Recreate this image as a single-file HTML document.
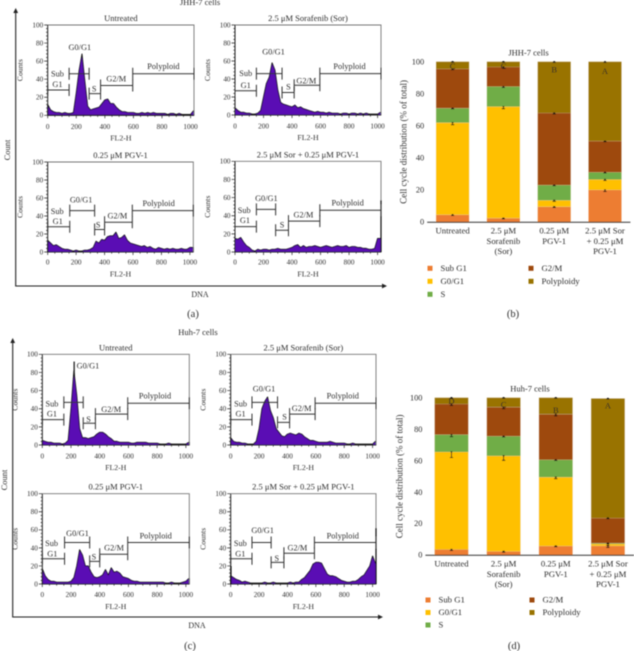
<!DOCTYPE html>
<html>
<head>
<meta charset="utf-8">
<title>Cell cycle distribution</title>
<style>
html,body{margin:0;padding:0;background:#fff;width:634px;height:651px;overflow:hidden}
svg{display:block}
text{font-family:"Liberation Serif",serif;fill:#2e2e2e}
</style>
</head>
<body>
<svg id="fig" width="634" height="651" viewBox="0 0 634 651" xmlns="http://www.w3.org/2000/svg">
  <defs>
    <filter id="soft" x="0" y="0" width="100%" height="100%"><feGaussianBlur stdDeviation="0.4"/></filter>
  </defs>
  <g id="root" filter="url(#soft)">
    <text x="200" y="5" font-size="8.5" text-anchor="middle">JHH-7 cells</text>
    <text x="198" y="335" font-size="8.5" text-anchor="middle">Huh-7 cells</text>

    <g stroke="#222" fill="none" stroke-width="1.1">
      <path d="M15.7 12V286H383"/>
      <path d="M15.7 8l-2.400 5h4.800z" fill="#222" stroke="none"/>
      <path d="M387 286l-5-2.400v4.800z" fill="#222" stroke="none"/>
    </g>
    <text x="10" y="150" font-size="8.5" text-anchor="middle" transform="rotate(-90 10 150)">Count</text>
    <text x="200" y="297" font-size="8" text-anchor="middle">DNA</text>
    <text x="193" y="317" font-size="10.500" text-anchor="middle">(a)</text>

    <g stroke="#222" fill="none" stroke-width="1.1">
      <path d="M12.700 342V617H379"/>
      <path d="M12.700 338l-2.400 5h4.800z" fill="#222" stroke="none"/>
      <path d="M383 617l-5-2.400v4.800z" fill="#222" stroke="none"/>
    </g>
    <text x="7" y="480" font-size="8.5" text-anchor="middle" transform="rotate(-90 7 480)">Count</text>
    <text x="197" y="628" font-size="8" text-anchor="middle">DNA</text>
    <text x="190" y="649" font-size="10.500" text-anchor="middle">(c)</text>

    <text x="513" y="317" font-size="10.500" text-anchor="middle">(b)</text>
    <text x="514" y="649" font-size="10.500" text-anchor="middle">(d)</text>
  </g>
</svg>
<script>
// ---- Histogram counts, one value per 20 FL2-H channels (0..1020) ----
var binWidth = 20;
var histA1 = [12,6,4,3,3,2,3,2,2,3,25,50,68,38,10,6,7,8,9,13,17,18,13,13,9,6,4,4,3,3,3,2,2,3,2,3,2,3,2,2,2,2,1,2,2,1,2,1,1,1,1,5];
var histA2 = [8,5,3,3,2,2,1,1,2,5,20,35,42,58,50,28,14,12,11,10,9,11,8,9,7,6,5,4,3,4,3,3,2,3,2,2,2,1,2,2,1,2,2,1,2,1,2,1,1,1,1,3];
var histA3 = [13,10,7,8,6,4,3,3,2,1,2,1,1,2,2,3,5,12,10,14,13,17,18,18,22,15,16,19,13,10,9,8,7,6,7,5,6,4,3,5,4,3,4,3,4,3,3,4,3,3,5,5];
var histA4 = [15,14,16,11,7,5,2,1,3,2,3,3,2,3,3,4,3,3,3,4,5,7,8,5,7,5,6,6,7,6,5,6,7,6,5,6,7,6,6,7,5,6,6,5,5,4,4,3,3,4,15,15];
var histC1 = [5,4,3,3,2,2,2,1,2,5,40,82,55,18,8,8,7,8,9,12,14,14,12,9,7,4,4,3,3,3,3,2,2,3,3,3,3,2,2,2,2,1,1,1,2,1,1,1,1,1,1,3];
var histC2 = [8,4,3,3,2,2,1,1,1,4,18,40,48,53,38,30,18,14,10,9,12,13,12,11,13,12,9,7,5,5,4,3,3,3,3,4,3,2,2,2,2,1,1,2,1,1,1,1,1,1,1,4];
var histC3 = [17,9,5,3,3,2,2,2,2,2,3,7,20,38,32,20,20,13,8,7,8,10,16,10,18,13,14,12,8,7,6,4,3,3,2,2,2,2,2,2,2,2,2,1,1,2,1,1,1,2,3,6];
var histC4 = [9,7,5,4,2,3,2,1,1,1,1,1,2,1,1,2,1,1,1,1,1,2,1,2,2,5,7,11,15,22,24,24,23,17,11,9,9,8,6,4,3,2,2,3,3,5,8,10,15,20,31,23];

// ---- Edge spikes (channel, top count, bottom count) ----
var spikeA4 = [1024, 57, 0];
var spikeC4 = [1024, 62, 0];
var spikeC4Left = [2, 20, 0];
var spikeC1Mid = [222, 92, 76];

// ---- Marker gates: low channel, high channel, height in counts ----
var gateNames = ['sub-g1','g0-g1','s','g2-m','polyploid'];
var gatesA1 = [[0,150,28],[150,290,46],[290,370,24],[370,595,33],[595,1024,46]];
var gatesA2 = [[0,150,27],[150,330,46],[330,415,25],[415,595,33],[595,1024,46]];
var gatesA3 = [[0,155,28],[155,330,46],[330,400,25],[400,595,33],[595,1024,46]];
var gatesA4 = [[0,150,28],[150,285,47],[285,375,24],[375,595,34],[595,1024,46]];
var gatesC1 = [[0,150,28],[150,285,47],[285,370,24],[370,595,34],[595,1024,46]];
var gatesC2 = [[0,150,28],[150,330,47],[330,415,25],[415,595,34],[595,1024,46]];
var gatesC3 = [[0,155,28],[155,330,46],[330,400,25],[400,595,33],[595,1024,46]];
var gatesC4 = [[0,150,28],[150,285,46],[285,375,24],[375,590,34],[590,1024,46]];

// ---- Marker labels: text, channel, count ----
var labelsA1 = [['Sub',68,46],['G1',68,34],['G0/G1',225,75],['S',325,29],['G2/M',480,40],['Polyploid',810,54]];
var labelsA2 = [['Sub',75,46],['G1',75,33],['G0/G1',270,70],['S',375,31],['G2/M',500,38],['Polyploid',803,54]];
var labelsA3 = [['Sub',67,45],['G1',70,34],['G0/G1',235,58],['S',355,30],['G2/M',490,40],['Polyploid',780,54]];
var labelsA4 = [['Sub',65,46],['G1',70,35],['G0/G1',220,59],['S',330,30],['G2/M',480,41],['Polyploid',790,54]];
var labelsC1 = [['Sub',67,45],['G1',67,34],['G0/G1',318,87],['S',322,28],['G2/M',480,39],['Polyploid',785,54]];
var labelsC2 = [['Sub',70,45],['G1',70,34],['G0/G1',235,62],['S',380,31],['G2/M',500,40],['Polyploid',790,54]];
var labelsC3 = [['Sub',65,45],['G1',70,33],['G0/G1',245,56],['S',360,30],['G2/M',500,40],['Polyploid',790,53]];
var labelsC4 = [['Sub',68,45],['G1',68,33],['G0/G1',225,59],['S',325,28],['G2/M',470,40],['Polyploid',790,53]];

// ---- Histogram axes ----
var histXTicks = [0,200,400,600,800,1000];
var histYTicks = [0,20,40,60,80,100];

// ---- Stacked bars ----
var phases = ['Sub G1','G0/G1','S','G2/M','Polyploidy'];
var barCategoriesB = [['Untreated'],['2.5 μM','Sorafenib','(Sor)'],['0.25 μM','PGV-1'],['2.5 μM Sor','+ 0.25 μM','PGV-1']];
var barCategoriesD = [['Untreated'],['2.5 μM','Sorafenib','(Sor)'],['0.25 μM','PGV-1'],['2.5 μM Sor','+ 0.25 μM','PGV-1']];
var subG1B = [4.5,2.4,9.5,20];
var g0g1B = [57.5,69.6,4,6.5];
var sB = [9,12.5,9.5,4.5];
var g2mB = [24.5,12.2,45,19.5];
var polyB = [4.5,3.3,32,49.5];
var subG1D = [3.5,2.3,5.7,5.8];
var g0g1D = [62,60.7,43.8,1.2];
var sD = [11,12.5,11,0.5];
var g2mD = [19.5,18.5,29,16];
var polyD = [4,6,10.5,76];
var errB = [[0.5,1.3,0.4,0.5,0.3],[0.4,1.3,0.6,0.7,0.3],[0.4,0.6,0.4,0.6,0.4],[1,0.6,0.4,0.4,0.4]];
var errD = [[0.6,3.6,1.3,1,0.3],[0.5,2.8,0.5,1,0.3],[0.4,1,0.4,1,0.3],[1,1,0.4,0.4,0.4]];
var lettersB = ['C','C','B','A'];
var lettersD = ['D','C','B','A'];
var letterLevelB = [97,97,95,94];
var letterLevelD = [97.700,95.500,92,95];
var barYTicks = [0,20,40,60,80,100];
var phaseColors = ['#ed7d31','#ffc000','#70ad47','#9e480e','#997300'];

var NS = 'http://www.w3.org/2000/svg';
var root = document.getElementById('root');
function mk(tag, attrs, parent) {
  var n = document.createElementNS(NS, tag);
  for (var k in attrs) n.setAttribute(k, attrs[k]);
  (parent || root).appendChild(n);
  return n;
}
function drawHistogram(key, title, values, gates, labels, spikes, box) {
  var xS = function (v) { return box.left + (box.right - box.left) * v / 1024; };
  var yS = function (v) { return box.y0 + (box.y100 - box.y0) * v / 100; };
  var g = mk('g', {});
  
  

  var t = mk('text', {x: (box.left + box.right) / 2, y: box.y100 - 4, 'font-size': 8.5, 'text-anchor': 'middle'}, g);
  t.textContent = title;
  
  

  var d = 'M' + xS(0) + ' ' + yS(0);
  values.forEach(function (v, i) { d += 'L' + xS(i * binWidth).toFixed(2) + ' ' + yS(v).toFixed(2); });
  d += 'L' + xS(1024) + ' ' + yS(values[values.length - 1]) + 'L' + xS(1024) + ' ' + yS(0) + 'Z';
  var area = mk('path', {d: d, fill: '#5a0cb4', stroke: '#111', 'stroke-width': 0.9, 'stroke-linejoin': 'round'}, g);
  
  

  var frame = mk('path', {d: 'M' + xS(0) + ' ' + yS(100) + 'H' + xS(1024) + 'V' + yS(0), fill: 'none', stroke: '#777', 'stroke-width': 0.9}, g);
  
  
  var axes = mk('path', {d: 'M' + xS(0) + ' ' + yS(100) + 'V' + yS(0) + 'H' + xS(1024), fill: 'none', stroke: '#222', 'stroke-width': 1}, g);
  
  

  spikes.forEach(function (s) {
    var l = mk('line', {x1: xS(s[0]), x2: xS(s[0]), y1: yS(s[2]), y2: yS(s[1]), stroke: '#111', 'stroke-width': 1.2}, g);
    
    
  });

  var tickPath = '';
  for (var yt = 0; yt <= 100; yt += 4) {
    tickPath += 'M' + xS(0) + ' ' + yS(yt).toFixed(2) + 'h' + (yt % 20 === 0 ? -3.5 : -1.6);
  }
  for (var xt = 0; xt <= 1000; xt += 50) {
    tickPath += 'M' + xS(xt).toFixed(2) + ' ' + yS(0) + 'v' + (xt % 200 === 0 ? 3 : 1.6);
  }
  var ticks = mk('path', {d: tickPath, stroke: '#222', 'stroke-width': 0.7, fill: 'none'}, g);
  
  

  histXTicks.forEach(function (v) {
    var tx = mk('text', {x: xS(v), y: yS(0) + box.tickGap, 'font-size': 7.2, 'text-anchor': 'middle'}, g);
    tx.textContent = v;
    
    
  });
  histYTicks.forEach(function (v) {
    var ty = mk('text', {x: xS(0) - 4.5, y: yS(v) + 2.4, 'font-size': 7.2, 'text-anchor': 'end'}, g);
    ty.textContent = v;
    
    
  });

  var xt2 = mk('text', {x: (box.left + box.right) / 2, y: yS(0) + box.titleGap, 'font-size': 7.800, 'text-anchor': 'middle'}, g);
  xt2.textContent = 'FL2-H';
  
  
  var cx = box.left - 25, cy = yS(50);
  var yt2 = mk('text', {x: cx, y: cy, 'font-size': 7.800, 'text-anchor': 'middle', transform: 'rotate(-90 ' + cx + ' ' + cy + ')'}, g);
  yt2.textContent = 'Counts';
  
  

  gates.forEach(function (gt, i) {
    var y = yS(gt[2]), h = 6;
    var m = mk('path', {d: 'M' + xS(gt[0]) + ' ' + y + 'H' + xS(gt[1]) + 'M' + xS(gt[0]) + ' ' + (y - h) + 'v' + (2 * h) + 'M' + xS(gt[1]) + ' ' + (y - h) + 'v' + (2 * h), stroke: '#333', 'stroke-width': 1, fill: 'none'}, g);
    
    
  });
  labels.forEach(function (lb) {
    var tl = mk('text', {x: xS(lb[1]), y: yS(lb[2]) + 2.5, 'font-size': 8.3, 'text-anchor': 'middle'}, g);
    tl.textContent = lb[0];
    
    
  });
}
function drawBars(key, title, categories, series, errs, letters, letterLevels, box) {
  var yS = function (v) { return box.y0 + (box.y100 - box.y0) * v / 100; };
  var band = (box.right - box.left) / categories.length;
  var xC = function (i) { return box.left + band * (i + 0.5); };
  var g = mk('g', {});
  
  

  var t = mk('text', {x: box.titleX, y: box.y100 - 6, 'font-size': 8.5, 'text-anchor': 'middle'}, g);
  t.textContent = title;
  
  

  categories.forEach(function (cat, c) {
    var base = 0;
    series.forEach(function (vals, s) {
      var v = vals[c];
      var r = mk('rect', {x: xC(c) - box.barW / 2, y: yS(base + v), width: box.barW, height: yS(base) - yS(base + v), fill: phaseColors[s], stroke: '#d9c9a0', 'stroke-opacity': 0.35, 'stroke-width': 0.5}, g);
      
      
      base += v;
    });
    base = 0;
    series.forEach(function (vals, s) {
      base += vals[c];
      var e = errs[c][s], y1 = yS(base), y2 = yS(base - e), x = xC(c);
      var eb = mk('path', {d: 'M' + x + ' ' + (y1 - 0.4) + 'V' + y2 + 'M' + (x - 1.6) + ' ' + y2 + 'h3.200M' + (x - 1) + ' ' + (y1 - 0.2) + 'h2', stroke: '#111', 'stroke-width': 0.8, fill: 'none'}, g);
      
      
    });
    var lt = mk('text', {x: xC(c), y: yS(letterLevels[c]) + 2.7, 'font-size': 8.5, 'text-anchor': 'middle', style: 'fill:#222'}, g);
    lt.textContent = letters[c];
    
    
    cat.forEach(function (line, i) {
      var tl = mk('text', {x: xC(c), y: box.y0 + 11.500 + i * 10.300, 'font-size': 8.700, 'text-anchor': 'middle'}, g);
      tl.textContent = line;
      
      
    });
  });

  var ax = mk('line', {x1: box.left, x2: box.right, y1: box.y0 + 0.3, y2: box.y0 + 0.3, stroke: '#333', 'stroke-width': 1}, g);
  
  

  barYTicks.forEach(function (v) {
    var ty = mk('text', {x: box.left - 3, y: yS(v) + 2.700, 'font-size': 8.300, 'text-anchor': 'end'}, g);
    ty.textContent = v;
    
    
  });
  var cy = yS(50), cx = box.titleLeft;
  var yt = mk('text', {x: cx, y: cy, 'font-size': 9, 'text-anchor': 'middle', transform: 'rotate(-90 ' + cx + ' ' + cy + ')'}, g);
  yt.textContent = 'Cell cycle distribution (% of total)';
  
  

  phases.forEach(function (p, i) {
    var col = i < 3 ? 0 : 1, row = i < 3 ? i : i - 3;
    var ly = box.legendY + row * box.legendStep;
    var sx = col === 0 ? box.legendX1 : box.legendX2;
    var sw = mk('rect', {x: sx - 2.5, y: ly - 2.5, width: 5, height: 5, fill: phaseColors[i]}, g);
    
    
    var lt2 = mk('text', {x: sx + 10.500, y: ly + 2.700, 'font-size': 8.700}, g);
    lt2.textContent = p;
    
    
  });
}

drawHistogram('a-untreated', 'Untreated', histA1, gatesA1, labelsA1, [], {left: 47.7, right: 194, y100: 25, y0: 115.3, tickGap: 13.500, titleGap: 25});
drawHistogram('a-sorafenib', '2.5 μM Sorafenib (Sor)', histA2, gatesA2, labelsA2, [], {left: 235, right: 381, y100: 25, y0: 115, tickGap: 13.500, titleGap: 25});
drawHistogram('a-pgv1', '0.25 μM PGV-1', histA3, gatesA3, labelsA3, [], {left: 47.7, right: 193.3, y100: 162, y0: 252, tickGap: 12.500, titleGap: 24.500});
drawHistogram('a-combo', '2.5 μM Sor + 0.25 μM PGV-1', histA4, gatesA4, labelsA4, [spikeA4], {left: 235, right: 381, y100: 161.3, y0: 252, tickGap: 12.500, titleGap: 24.500});
drawHistogram('c-untreated', 'Untreated', histC1, gatesC1, labelsC1, [spikeC1Mid], {left: 42.3, right: 189.3, y100: 354.3, y0: 445, tickGap: 13.500, titleGap: 25});
drawHistogram('c-sorafenib', '2.5 μM Sorafenib (Sor)', histC2, gatesC2, labelsC2, [], {left: 230.7, right: 376, y100: 354.3, y0: 445, tickGap: 13.500, titleGap: 25});
drawHistogram('c-pgv1', '0.25 μM PGV-1', histC3, gatesC3, labelsC3, [], {left: 42.3, right: 189.3, y100: 493.7, y0: 584, tickGap: 13, titleGap: 25});
drawHistogram('c-combo', '2.5 μM Sor + 0.25 μM PGV-1', histC4, gatesC4, labelsC4, [spikeC4, spikeC4Left], {left: 230.7, right: 376, y100: 493.7, y0: 584, tickGap: 13, titleGap: 25});

drawBars('b', 'JHH-7 cells', barCategoriesB, [subG1B, g0g1B, sB, g2mB, polyB], errB, lettersB, letterLevelB,
  {left: 427.2, right: 630.4, y0: 222, y100: 61.7, barW: 33, titleX: 528.5, titleLeft: 406.5, legendX1: 430, legendX2: 531, legendY: 268.3, legendStep: 13});
drawBars('d', 'Huh-7 cells', barCategoriesD, [subG1D, g0g1D, sD, g2mD, polyD], errD, lettersD, letterLevelD,
  {left: 425.4, right: 634, y0: 555, y100: 397.7, barW: 33.6, titleX: 530, titleLeft: 402.5, legendX1: 428, legendX2: 532, legendY: 600, legendStep: 12.500});
</script>
</body>
</html>
